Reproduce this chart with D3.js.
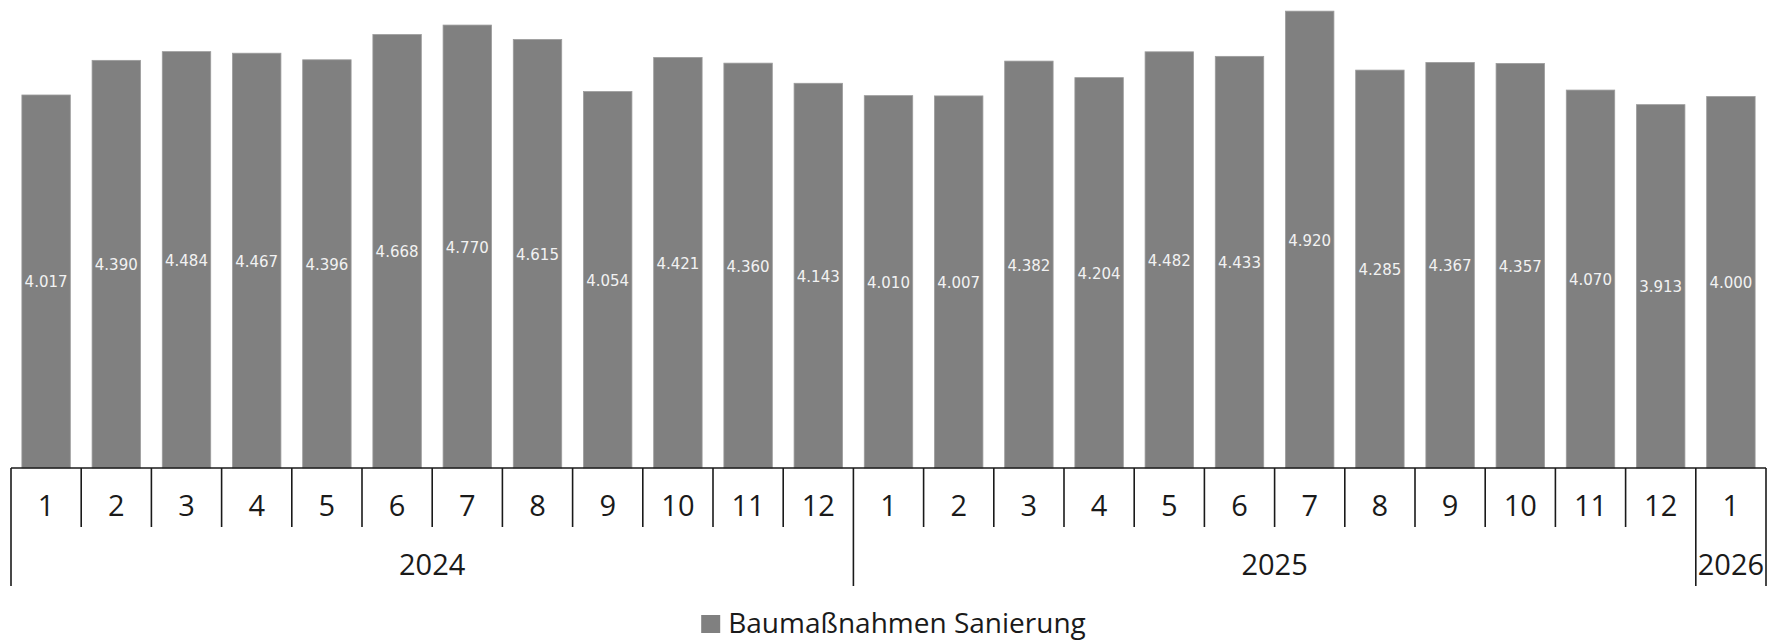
<!DOCTYPE html>
<html>
<head>
<meta charset="utf-8">
<script src="https://cdn.jsdelivr.net/npm/d3@7"></script>
<style>
  html, body { margin: 0; padding: 0; background: #fff; }
  svg { display: block; }
</style>
</head>
<body>
<svg id="chart" width="1768" height="640"></svg>
<script>
// ---- data ----
const years = ["2024", "2025", "2026"];
const months2024 = ["1","2","3","4","5","6","7","8","9","10","11","12"];
const months2025 = ["1","2","3","4","5","6","7","8","9","10","11","12"];
const months2026 = ["1"];
const values2024 = [4017, 4390, 4484, 4467, 4396, 4668, 4770, 4615, 4054, 4421, 4360, 4143];
const values2025 = [4010, 4007, 4382, 4204, 4482, 4433, 4920, 4285, 4367, 4357, 4070, 3913];
const values2026 = [4000];
const seriesName = "Baumaßnahmen Sanierung";

// build rows
const groups = [
  { year: years[0], months: months2024, values: values2024 },
  { year: years[1], months: months2025, values: values2025 },
  { year: years[2], months: months2026, values: values2026 }
];
const rows = [];
groups.forEach(g => g.months.forEach((m, i) => rows.push({ key: g.year + "-" + m, year: g.year, month: m, value: g.values[i] })));

// ---- layout ----
const W = 1768, H = 640;
const x0 = 11, x1 = 1766;
const baseY = 468, topY = 0;
const monthRowBottom = 527, yearRowBottom = 586;

const svg = d3.select("#chart");
const x = d3.scaleBand().domain(rows.map(d => d.key)).range([x0, x1]).paddingInner(0.31).paddingOuter(0.155);
const y = d3.scaleLinear().domain([0, 5040]).range([baseY, topY]);
const step = x.step();

const loc = d3.formatLocale({ decimal: ",", thousands: ".", grouping: [3], currency: ["", " €"] });
const fmt = loc.format(",d");

// bars
svg.append("g").selectAll("rect").data(rows).join("rect")
  .attr("x", d => x(d.key))
  .attr("y", d => y(d.value))
  .attr("width", x.bandwidth())
  .attr("height", d => y(0) - y(d.value))
  .attr("fill", "#808080")
  .attr("stroke", "#9c9c9c")
  .attr("stroke-width", 0.8);

// value labels
svg.append("g").selectAll("text").data(rows).join("text")
  .attr("x", d => x(d.key) + x.bandwidth() / 2)
  .attr("y", d => (y(d.value) + y(0)) / 2 + 1)
  .attr("text-anchor", "middle")
  .attr("dominant-baseline", "central")
  .attr("font-family", "DejaVu Sans, sans-serif")
  .attr("font-size", 15)
  .attr("fill", "#f2f2f2")
  .text(d => fmt(d.value));

// axis
const axis = svg.append("g").attr("stroke", "#1a1a1a").attr("stroke-width", 1.6);
axis.append("line").attr("x1", x0).attr("x2", x1).attr("y1", baseY).attr("y2", baseY);

// boundaries
const bounds = [];
let idx = 0;
groups.forEach(g => {
  g.months.forEach((m, i) => {
    bounds.push({ pos: x0 + idx * step, major: i === 0 });
    idx++;
  });
});
bounds.push({ pos: x0 + idx * step, major: true });
axis.selectAll("line.tick").data(bounds).join("line")
  .attr("class", "tick")
  .attr("x1", d => d.pos).attr("x2", d => d.pos)
  .attr("y1", baseY).attr("y2", d => d.major ? yearRowBottom : monthRowBottom);

// month labels
svg.append("g").selectAll("text").data(rows).join("text")
  .attr("x", d => x(d.key) + x.bandwidth() / 2)
  .attr("y", 516)
  .attr("text-anchor", "middle")
  .attr("font-family", "Open Sans, sans-serif")
  .attr("font-size", 29)
  .attr("fill", "#1a1a1a")
  .text(d => d.month);

// year labels
let start = 0;
const yearData = groups.map(g => {
  const a = x0 + start * step;
  start += g.months.length;
  const b = x0 + start * step;
  return { year: g.year, mid: (a + b) / 2 };
});
svg.append("g").selectAll("text").data(yearData).join("text")
  .attr("x", d => d.mid)
  .attr("y", 575)
  .attr("text-anchor", "middle")
  .attr("font-family", "Open Sans, sans-serif")
  .attr("font-size", 29)
  .attr("fill", "#1a1a1a")
  .text(d => d.year);

// legend
const lg = svg.append("g");
const lt = lg.append("text")
  .attr("x", 27)
  .attr("y", 633)
  .attr("font-family", "Open Sans, sans-serif")
  .attr("font-size", 28)
  .attr("fill", "#1a1a1a")
  .text(seriesName);
lg.append("rect").attr("x", 0).attr("y", 615).attr("width", 19).attr("height", 18).attr("fill", "#808080");
const tw = lt.node().getComputedTextLength();
const total = 27 + tw;
lg.attr("transform", `translate(${893.5 - total / 2},0)`);
</script>
</body>
</html>
